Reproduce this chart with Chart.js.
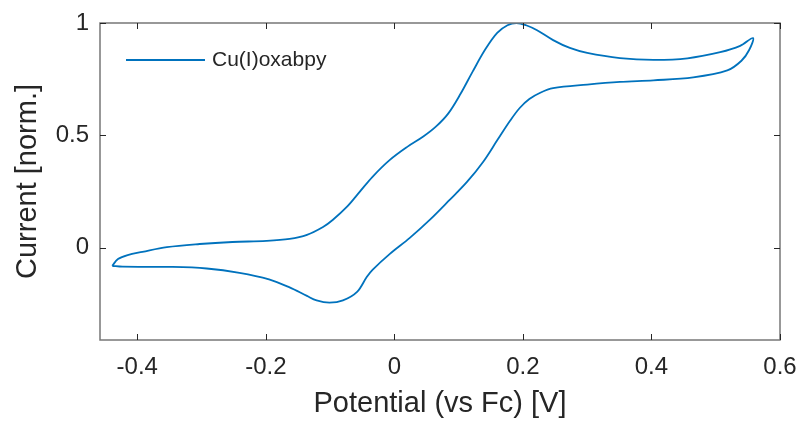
<!DOCTYPE html>
<html>
<head>
<meta charset="utf-8">
<title>Cu(I)oxabpy CV</title>
<script src="https://cdn.jsdelivr.net/npm/chart.js@4.4.1/dist/chart.umd.min.js"></script>
<style>
  html, body { margin: 0; padding: 0; background: #fff; }
  #wrap { width: 803px; height: 421px; }
</style>
</head>
<body>
<div id="wrap"><canvas id="cv" width="803" height="421"></canvas></div>
<script>
// cyclic voltammogram, one closed loop: anodic sweep to the right, then back
const potential = [
  -0.439, -0.430, -0.415, -0.392, -0.354, -0.303, -0.252, -0.199, -0.163, -0.136,
  -0.111, -0.096, -0.074, -0.054, -0.034, -0.007, 0.020, 0.045, 0.065, 0.084,
  0.103, 0.122, 0.142, 0.160, 0.176, 0.190, 0.205, 0.222, 0.247, 0.273,
  0.300, 0.351, 0.403, 0.456, 0.507, 0.538, 0.558,
  0.552, 0.540, 0.518, 0.465, 0.403, 0.351, 0.300, 0.247, 0.227, 0.210,
  0.195, 0.180, 0.160, 0.138, 0.113, 0.086, 0.055, 0.024, -0.007, -0.034,
  -0.043, -0.058, -0.080, -0.101, -0.121, -0.136, -0.163, -0.195, -0.241, -0.292,
  -0.345, -0.423, -0.439
];
const current = [
  -0.080, -0.050, -0.032, -0.018, 0.003, 0.017, 0.026, 0.031, 0.040, 0.058,
  0.093, 0.124, 0.182, 0.249, 0.316, 0.391, 0.449, 0.495, 0.540, 0.598,
  0.685, 0.785, 0.885, 0.956, 0.990, 1.000, 0.990, 0.968, 0.924, 0.889,
  0.867, 0.844, 0.836, 0.843, 0.870, 0.898, 0.933,
  0.880, 0.832, 0.789, 0.758, 0.745, 0.738, 0.726, 0.710, 0.690, 0.662,
  0.622, 0.565, 0.478, 0.382, 0.293, 0.213, 0.124, 0.044, -0.027, -0.098,
  -0.130, -0.196, -0.234, -0.244, -0.234, -0.214, -0.176, -0.140, -0.111, -0.092,
  -0.085, -0.084, -0.080
];
const xTicks = [-0.4, -0.2, 0, 0.2, 0.4, 0.6];
const yTicks = [0, 0.5, 1];
const seriesName = "Cu(I)oxabpy";

const FONT = "'Liberation Sans', Arial, Helvetica, sans-serif";
const TEXT = "#262626";
const AXIS = "#777777";
const LINE = "#0072BD";

const points = potential.map((x, i) => ({ x: x, y: current[i] }));

function fmt(v) {
  return String(Number(v.toFixed(1)));
}

// box round the plot, ticks pointing inwards on all four sides, legend inside
const matlabAxes = {
  id: "matlabAxes",
  afterDraw(chart) {
    const { ctx, chartArea: a, scales } = chart;
    ctx.save();
    ctx.strokeStyle = AXIS;
    ctx.lineWidth = 1.5;
    ctx.strokeRect(a.left, a.top, a.right - a.left, a.bottom - a.top);

    ctx.strokeStyle = TEXT;
    ctx.lineWidth = 1;
    const len = 6;
    ctx.beginPath();
    xTicks.forEach(v => {
      const px = Math.round(scales.x.getPixelForValue(v)) + 0.5;
      ctx.moveTo(px, a.bottom); ctx.lineTo(px, a.bottom - len);
      ctx.moveTo(px, a.top); ctx.lineTo(px, a.top + len);
    });
    yTicks.forEach(v => {
      const py = Math.round(scales.y.getPixelForValue(v)) + 0.5;
      ctx.moveTo(a.left, py); ctx.lineTo(a.left + len, py);
      ctx.moveTo(a.right, py); ctx.lineTo(a.right - len, py);
    });
    ctx.stroke();

    // legend
    const ly = a.top + 37;
    ctx.strokeStyle = LINE;
    ctx.lineWidth = 1.8;
    ctx.beginPath();
    ctx.moveTo(a.left + 26, ly);
    ctx.lineTo(a.left + 105, ly);
    ctx.stroke();
    ctx.fillStyle = TEXT;
    ctx.font = "21px " + FONT;
    ctx.textBaseline = "middle";
    ctx.fillText(seriesName, a.left + 112, ly);
    ctx.restore();
  }
};

new Chart(document.getElementById("cv").getContext("2d"), {
  type: "scatter",
  data: {
    datasets: [{
      label: seriesName,
      data: points,
      showLine: true,
      borderColor: LINE,
      borderWidth: 1.8,
      pointRadius: 0,
      tension: 0.35,
      fill: false
    }]
  },
  options: {
    responsive: false,
    animation: false,
    layout: { padding: { top: 23, right: 23, left: 0, bottom: 0 } },
    plugins: { legend: { display: false }, tooltip: { enabled: false } },
    scales: {
      x: {
        type: "linear",
        min: -0.458,
        max: 0.6,
        afterBuildTicks: s => { s.ticks = xTicks.map(v => ({ value: v })); },
        afterFit: s => { s.height = 81; s.paddingLeft = 0; s.paddingRight = 0; },
        grid: { display: false, drawTicks: false },
        border: { display: false },
        ticks: {
          padding: 13,
          color: TEXT,
          font: { family: FONT, size: 24 },
          callback: v => fmt(v)
        },
        title: {
          display: true,
          text: "Potential (vs Fc) [V]",
          color: TEXT,
          font: { family: FONT, size: 29 },
          padding: { top: 0, bottom: 0 }
        }
      },
      y: {
        type: "linear",
        min: -0.41,
        max: 1,
        afterBuildTicks: s => { s.ticks = yTicks.map(v => ({ value: v })); },
        afterFit: s => { s.width = 100; s.paddingTop = 0; s.paddingBottom = 0; },
        grid: { display: false, drawTicks: false },
        border: { display: false },
        ticks: {
          padding: 11,
          color: TEXT,
          font: { family: FONT, size: 24 },
          callback: v => fmt(v)
        },
        title: {
          display: true,
          text: "Current [norm.]",
          color: TEXT,
          font: { family: FONT, size: 29 },
          padding: { top: 11, bottom: 0 }
        }
      }
    }
  },
  plugins: [matlabAxes]
});
</script>
</body>
</html>
